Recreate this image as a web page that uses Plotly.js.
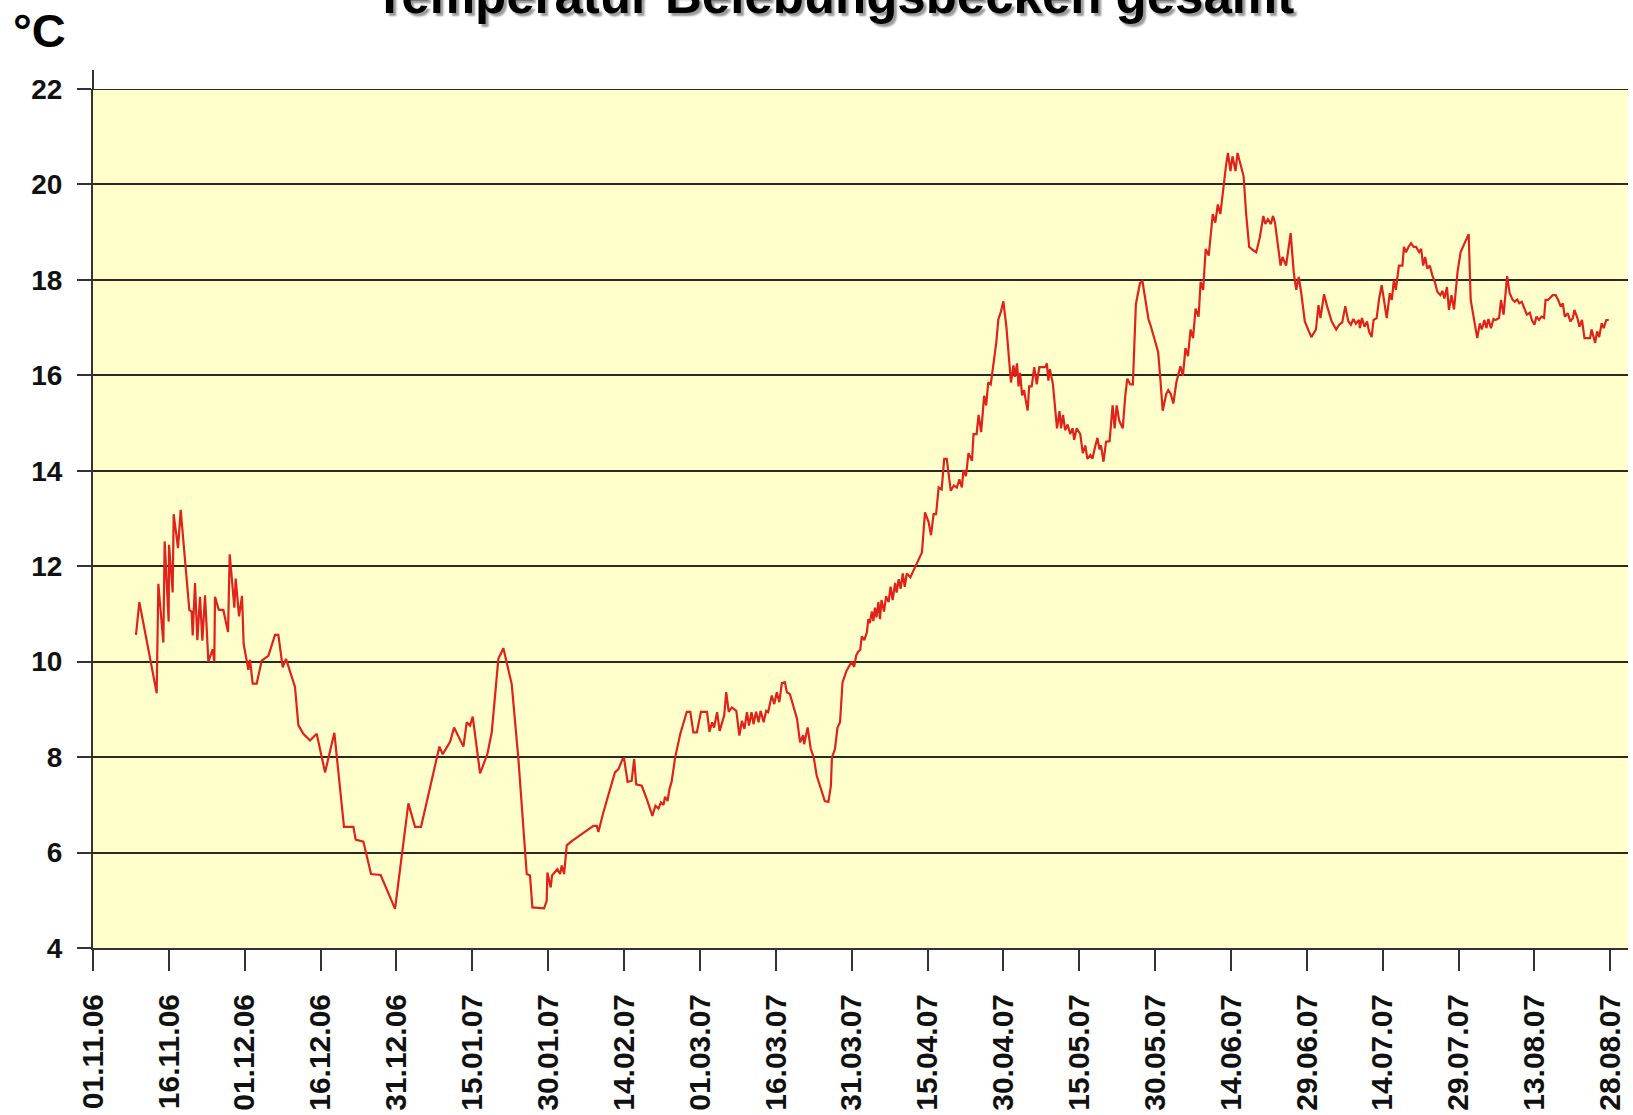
<!DOCTYPE html>
<html>
<head>
<meta charset="utf-8">
<script src="https://cdn.plot.ly/plotly-3.0.1.min.js"></script>
<style>
  html, body { margin: 0; padding: 0; background: #ffffff; }
  #chart { width: 1633px; height: 1115px; }
</style>
</head>
<body>
<div id="chart"></div>
<script>
// Title and axis texts
const chartTitle = 'Temperatur Belebungsbecken gesamt';
const unitLabel = '°C';
const startDate = '2006-11-01';

// Days elapsed since 01.11.06
const dayOffset = [
  8.5, 9.16, 12.59, 12.92, 13.91, 14.17, 14.96, 15.03, 15.75, 15.95, 16.81, 17.34, 19.05, 19.51, 19.71,
  20.17, 20.63, 21.16, 21.62, 22.15, 22.81, 23.66, 23.99, 24.12, 24.85, 25.77, 26.7, 27.03, 27.95, 28.21,
  28.87, 29.46, 29.79, 30.72, 31.05, 31.57, 32.36, 33.35, 34.67, 35.99, 36.65, 37.51, 38.16, 39.94, 40.6,
  41.59, 42.91, 44.23, 45.88, 47.72, 49.63, 51.48, 51.94, 53.46, 54.97, 56.88, 59.72, 62.36, 63.67, 64.86,
  68.49, 69.14, 70.6, 71.39, 73.24, 73.9, 74.55, 75.08, 76.53, 77.97, 78.84, 80.15, 81.14, 82.79, 84.1,
  85.76, 86.41, 86.87, 89.18, 89.71, 89.84, 90.5, 90.76, 91.82, 92.35, 92.68, 93.14, 93.67, 94.66, 98.94,
  99.6, 99.93, 100.9, 103.2, 103.9, 104.7, 105, 105.7, 106.5, 107, 107.4, 108.5, 109.5, 110.6, 111.2,
  111.8, 112.3, 112.8, 113.1, 113.6, 114, 114.4, 115.1, 116.1, 117.4, 118.1, 118.7, 119.4, 120.2, 121.4,
  121.9, 122.4, 122.8, 123.4, 123.9, 124.8, 125.2, 125.7, 126.3, 127.2, 127.8, 128.3, 128.8, 129.3, 129.7,
  130.2, 130.6, 131.1, 131.6, 132, 132.6, 133.1, 133.5, 134.2, 134.7, 135.2, 135.7, 136.2, 136.8, 137.2,
  137.8, 139.2, 139.8, 140.4, 140.6, 141.3, 141.9, 142.5, 143.1, 143.9, 144.7, 145.4, 145.9, 146.1, 146.7,
  147.2, 147.7, 148.2, 149, 150, 150.5, 150.9, 151.3, 151.7, 152, 152.5, 153, 153.3, 153.6, 154,
  154.3, 154.6, 154.9, 155.3, 155.6, 155.9, 156.4, 156.8, 157.3, 157.7, 158.1, 158.6, 158.9, 159.3, 159.7,
  160.1, 160.5, 160.9, 161.6, 162.5, 163.5, 163.9, 164.5, 165.2, 165.7, 166.2, 166.7, 167.2, 167.8, 168.3,
  168.8, 169.2, 169.6, 170.2, 170.8, 171.3, 171.8, 172.1, 172.6, 173.1, 173.8, 174.1, 174.7, 175.1, 175.6,
  176.2, 176.6, 177, 177.5, 178, 178.6, 179, 179.5, 180, 180.6, 181.5, 182, 182.3, 182.7, 183,
  183.3, 183.7, 184.1, 184.4, 184.8, 185.1, 185.6, 186.1, 186.6, 187.1, 188.3, 188.6, 188.9, 189.2, 189.8,
  190.6, 191.1, 191.4, 191.8, 192.2, 192.7, 193.2, 193.7, 194, 194.5, 195.2, 195.7, 196.2, 196.6, 197.2,
  197.6, 198.2, 198.6, 199, 199.3, 199.8, 200.3, 201, 201.6, 202, 202.4, 202.9, 203.6, 204.1, 204.5,
  205.1, 205.6, 206.2, 207, 207.5, 208, 208.7, 209.1, 210.3, 210.6, 211, 211.5, 212.2, 212.6, 213.1,
  213.6, 214.2, 215, 215.5, 216, 216.5, 217, 217.5, 218, 218.6, 219, 219.5, 220, 220.6, 221.4,
  221.9, 222.4, 222.9, 223.5, 224, 224.4, 224.9, 225.3, 225.9, 226.3, 226.9, 227.5, 228, 228.6, 229.4,
  230, 230.7, 231.4, 231.8, 232.3, 232.9, 233.3, 233.7, 234.2, 234.8, 235.2, 235.9, 236.8, 237.4, 237.9,
  238.4, 238.9, 239.6, 240.4, 240.9, 241.8, 242.3, 242.7, 243.4, 244, 244.9, 245.8, 246.4, 247, 247.6,
  248.2, 248.7, 249.2, 249.7, 250.3, 250.5, 250.9, 251.4, 251.9, 252.3, 252.8, 253.2, 253.8, 254.3, 254.8,
  255.3, 255.8, 256.4, 256.8, 257.2, 257.6, 258.2, 258.9, 259.2, 259.6, 260.1, 260.6, 261.1, 261.6, 262.2,
  262.6, 263, 263.4, 263.8, 264.3, 264.8, 265.3, 265.8, 266.4, 266.8, 267.2, 267.7, 268.1, 268.6, 269.1,
  269.8, 270.4, 271.1, 272, 272.4, 272.9, 273.3, 273.7, 274.2, 274.6, 275.1, 275.5, 275.9, 276.4, 276.9,
  277.3, 278, 278.4, 278.9, 279.6, 280.1, 280.7, 281.1, 281.6, 282, 282.5, 283, 283.5, 284.1, 284.5,
  285, 285.4, 285.9, 286.4, 286.9, 287.2, 287.7, 288.2, 288.6, 289.2, 289.7, 290.2, 290.6, 291, 291.6,
  292.1, 292.6, 292.9, 293.5, 293.9, 294.4, 294.9, 296, 296.3, 296.7, 297, 297.4, 297.8, 298.3, 298.7,
  299.2, 299.7
];

// Temperature in °C
const temperature = [
  10.56, 11.25, 9.34, 11.63, 10.4, 12.52, 10.84, 12.45, 11.45, 13.09, 12.38, 13.18, 11.08, 11.05, 10.55,
  11.65, 10.45, 11.36, 10.44, 11.39, 10.0, 10.26, 10.0, 11.36, 11.09, 11.08, 10.62, 12.25, 11.13, 11.74,
  10.95, 11.38, 10.37, 9.83, 10.04, 9.54, 9.54, 10.02, 10.12, 10.56, 10.56, 9.88, 10.06, 9.47, 8.67,
  8.49, 8.35, 8.49, 7.68, 8.51, 6.54, 6.54, 6.27, 6.23, 5.55, 5.53, 4.82, 7.03, 6.54, 6.54,
  8.22, 8.06, 8.32, 8.62, 8.22, 8.73, 8.66, 8.85, 7.66, 8.06, 8.52, 10.06, 10.28, 9.53, 7.97,
  5.55, 5.52, 4.85, 4.83, 4.99, 5.58, 5.27, 5.52, 5.65, 5.55, 5.73, 5.55, 6.15, 6.24, 6.56,
  6.56, 6.43, 6.84, 7.68, 7.75, 7.96, 7.97, 7.48, 7.5, 7.96, 7.43, 7.4, 7.12, 6.77, 6.98,
  6.92, 7.05, 7.0, 7.17, 7.08, 7.34, 7.48, 7.99, 8.48, 8.95, 8.95, 8.52, 8.52, 8.95, 8.95,
  8.53, 8.73, 8.62, 8.94, 8.55, 8.87, 9.36, 8.95, 9.04, 8.97, 8.45, 8.76, 8.59, 8.94, 8.66,
  8.94, 8.69, 8.95, 8.73, 8.97, 8.73, 8.97, 8.94, 9.29, 9.11, 9.36, 9.15, 9.55, 9.57, 9.36,
  9.32, 8.8, 8.31, 8.46, 8.27, 8.62, 8.18, 7.99, 7.61, 7.33, 7.08, 7.06, 7.4, 7.99, 8.17,
  8.62, 8.73, 9.57, 9.81, 10.0, 9.89, 10.13, 10.21, 10.25, 10.53, 10.45, 10.61, 10.89, 10.81, 11.05,
  10.85, 11.13, 10.93, 11.25, 10.89, 11.29, 11.05, 11.37, 11.25, 11.57, 11.29, 11.65, 11.45, 11.73, 11.53,
  11.85, 11.57, 11.85, 11.77, 11.97, 12.21, 12.29, 13.13, 12.93, 12.65, 13.09, 13.09, 13.65, 13.61, 14.25,
  14.25, 13.85, 13.58, 13.69, 13.65, 13.82, 13.65, 14.01, 13.89, 14.37, 14.21, 14.77, 14.77, 15.17, 14.81,
  15.57, 15.37, 15.85, 15.81, 16.21, 16.69, 17.17, 17.33, 17.55, 17.01, 15.85, 16.21, 15.97, 16.25, 15.77,
  16.05, 15.58, 15.69, 15.49, 15.26, 15.77, 15.77, 16.17, 15.81, 16.17, 16.17, 16.25, 15.89, 16.13, 15.81,
  14.89, 15.25, 14.89, 15.17, 14.85, 14.97, 14.77, 14.89, 14.65, 14.89, 14.77, 14.37, 14.53, 14.25, 14.33,
  14.25, 14.53, 14.69, 14.45, 14.53, 14.19, 14.61, 14.62, 15.37, 14.89, 15.37, 15.05, 14.89, 15.57, 15.93,
  15.81, 15.81, 17.49, 17.93, 17.97, 17.65, 17.17, 17.05, 16.57, 16.49, 15.97, 15.26, 15.61, 15.69, 15.61,
  15.41, 15.85, 16.19, 15.99, 16.57, 16.4, 16.96, 16.78, 17.4, 17.23, 17.96, 17.79, 18.65, 18.51, 19.38,
  19.2, 19.58, 19.38, 19.97, 20.38, 20.66, 20.28, 20.59, 20.28, 20.66, 20.42, 20.17, 19.38, 18.69, 18.62,
  18.58, 18.89, 19.34, 19.17, 19.27, 19.17, 19.34, 19.2, 18.75, 18.3, 18.48, 18.3, 18.98, 18.17, 17.79,
  18.06, 17.72, 17.13, 16.92, 16.8, 16.96, 17.47, 17.2, 17.7, 17.45, 17.13, 16.96, 17.06, 17.11, 17.45,
  17.13, 17.06, 17.18, 17.08, 17.16, 16.99, 17.2, 17.02, 17.13, 16.92, 16.8, 17.16, 17.2, 17.61, 17.89,
  17.58, 17.2, 17.72, 17.58, 17.99, 17.79, 18.3, 18.3, 18.69, 18.58, 18.69, 18.77, 18.69, 18.69, 18.58,
  18.65, 18.3, 18.48, 18.24, 18.3, 18.1, 17.96, 17.75, 17.68, 17.77, 17.61, 17.85, 17.37, 17.68, 17.38,
  18.17, 18.58, 18.75, 18.96, 17.58, 17.23, 17.02, 16.78, 17.09, 16.96, 17.16, 16.99, 17.18, 16.99, 17.18,
  17.16, 17.2, 17.58, 17.27, 18.08, 17.72, 17.58, 17.54, 17.59, 17.51, 17.54, 17.4, 17.27, 17.31, 17.16,
  17.06, 17.23, 17.16, 17.23, 17.2, 17.58, 17.58, 17.65, 17.68, 17.68, 17.58, 17.44, 17.51, 17.23, 17.3,
  17.13, 17.2, 17.37, 17.2, 17.02, 17.16, 16.78, 16.78, 16.96, 16.82, 16.68, 16.92, 16.8, 17.09, 16.99,
  17.16, 17.16
];

const DAY_MS = 86400000;
const t0 = Date.parse(startDate + 'T00:00:00Z');
const toDate = d => new Date(t0 + d * DAY_MS).toISOString().slice(0, 19).replace('T', ' ');
const dates = dayOffset.map(toDate);

const boldFont = 'Liberation Sans, Arial, sans-serif';

const trace = {
  type: 'scatter',
  mode: 'lines',
  x: dates,
  y: temperature,
  line: { color: '#e1221a', width: 2.2 },
  hoverinfo: 'x+y'
};

const layout = {
  width: 1633,
  height: 1115,
  margin: { l: 93, r: 5, t: 89, b: 167 },
  paper_bgcolor: '#ffffff',
  plot_bgcolor: '#ffffcc',
  showlegend: false,
  xaxis: {
    type: 'date',
    range: [toDate(0), toDate(303.5)],
    tick0: startDate,
    dtick: 15 * DAY_MS,
    tickformat: '%d.%m.%y',
    tickangle: -90,
    ticks: 'outside',
    ticklen: 21,
    tickwidth: 2,
    tickcolor: '#333333',
    ticklabelstandoff: 11,
    showline: true,
    linecolor: '#333333',
    linewidth: 2,
    showgrid: false,
    zeroline: false,
    tickfont: { family: boldFont, size: 30, color: '#111111', weight: 'bold' }
  },
  yaxis: {
    range: [4, 22],
    tick0: 4,
    dtick: 2,
    ticks: 'outside',
    ticklen: 14,
    tickwidth: 2,
    tickcolor: '#333333',
    ticklabelstandoff: 9,
    showline: true,
    linecolor: '#333333',
    linewidth: 2,
    showgrid: true,
    gridcolor: '#2a2a22',
    gridwidth: 2,
    zeroline: false,
    tickfont: { family: boldFont, size: 28, color: '#111111', weight: 'bold' }
  },
  shapes: [
    { type: 'line', xref: 'paper', yref: 'paper', x0: 0, x1: 0, y0: 1, y1: 1.022,
      line: { color: '#333333', width: 2 } },
    { type: 'line', xref: 'paper', yref: 'y', x0: 0, x1: 1, y0: 22, y1: 22,
      line: { color: '#2a2a22', width: 2 } }
  ],
  annotations: [
    {
      text: chartTitle, xref: 'paper', yref: 'paper', x: 0.483, y: 1,
      xanchor: 'center', yanchor: 'bottom', yshift: 63, showarrow: false,
      font: { family: boldFont, size: 51, color: '#000000', weight: 'bold', shadow: '3px 3px 2px #9a9a9a' }
    },
    {
      text: unitLabel, xref: 'paper', yref: 'paper', x: -0.0534, y: 1,
      xanchor: 'left', yanchor: 'bottom', yshift: 30, showarrow: false,
      font: { family: boldFont, size: 47, color: '#000000', weight: 'bold' }
    }
  ]
};

Plotly.newPlot('chart', [trace], layout, { displayModeBar: false, staticPlot: true });
</script>
</body>
</html>
